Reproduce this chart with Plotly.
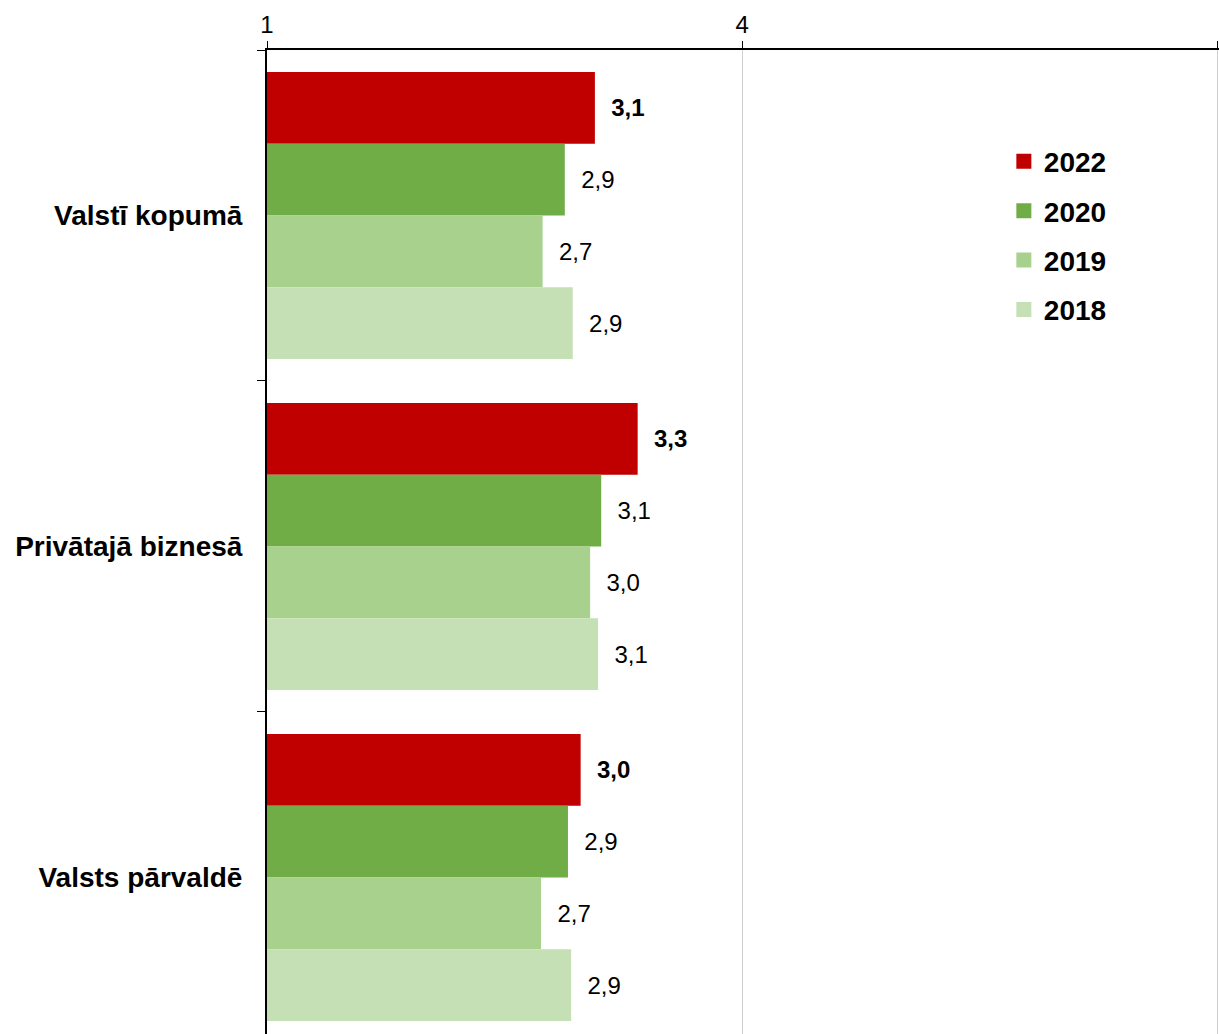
import plotly.graph_objects as go

categories = ["Valstī kopumā", "Privātajā biznesā", "Valsts pārvaldē"]
years = ["2022", "2020", "2019", "2018"]
values_2022 = [3.07, 3.34, 2.98]
values_2020 = [2.88, 3.11, 2.90]
values_2019 = [2.74, 3.04, 2.73]
values_2018 = [2.93, 3.09, 2.92]
series = [values_2022, values_2020, values_2019, values_2018]
colors = ["#C00000", "#70AD47", "#A9D18E", "#C5E0B4"]
x_ticks = [1, 4, 7]

FONT = "Arial, Liberation Sans, Helvetica, sans-serif"

def fmt(v):
    return "\u00a0\u00a0" + f"{v:.1f}".replace(".", ",")

fig = go.Figure()
for i, (yr, vals, col) in enumerate(zip(years, series, colors)):
    fig.add_trace(go.Bar(
        name=yr,
        y=categories,
        x=[v - 1 for v in vals],
        base=1,
        orientation="h",
        marker=dict(color=col, line=dict(width=0)),
        text=[fmt(v) for v in vals],
        textposition="outside",
        constraintext="none",
        cliponaxis=False,
        textfont=dict(family=FONT, size=24, color="black",
                      weight="bold" if i == 0 else "normal"),
        showlegend=False,
        hoverinfo="skip",
    ))

# legend-only entries with square markers
for yr, col in zip(years, colors):
    fig.add_trace(go.Scatter(
        name=yr, x=[None], y=[None], mode="markers",
        marker=dict(symbol="square", size=15, color=col),
        legendgroup=yr, showlegend=True, hoverinfo="skip",
    ))

fig.update_layout(
    width=1219, height=1034,
    margin=dict(l=267, r=0, t=50, b=0),
    paper_bgcolor="white", plot_bgcolor="white",
    barmode="group", bargap=0.133, bargroupgap=0,
    font=dict(family=FONT, color="black"),
    legend=dict(
        x=0.774, y=0.912, xanchor="left", yanchor="top",
        traceorder="grouped", tracegroupgap=10,
        font=dict(family=FONT, size=28, weight="bold", color="black"),
        itemwidth=30, bgcolor="rgba(0,0,0,0)",
    ),
    showlegend=True,
)

fig.update_xaxes(
    side="top", range=[1, 7.01], tickmode="array", tickvals=x_ticks,
    ticktext=[str(t) for t in x_ticks],
    showgrid=True, gridcolor="#D0D0D0", gridwidth=1,
    showline=True, linecolor="black", linewidth=2,
    ticks="outside", ticklen=7, tickcolor="black",
    tickfont=dict(family=FONT, size=24, color="black"),
    ticklabelstandoff=-2,
    zeroline=False, fixedrange=True,
)
fig.update_yaxes(
    type="category", range=[2.473, -0.5],
    categoryorder="array", categoryarray=categories,
    showline=True, linecolor="black", linewidth=2,
    ticks="outside", ticklen=8, tickcolor="black", tickson="boundaries",
    tickfont=dict(family=FONT, size=28, weight="bold", color="black"),
    ticklabelstandoff=17,
    showgrid=False, zeroline=False, fixedrange=True,
)

fig.write_html("out.html", config={"displayModeBar": False},
               post_script="document.body.style.margin='0';")
